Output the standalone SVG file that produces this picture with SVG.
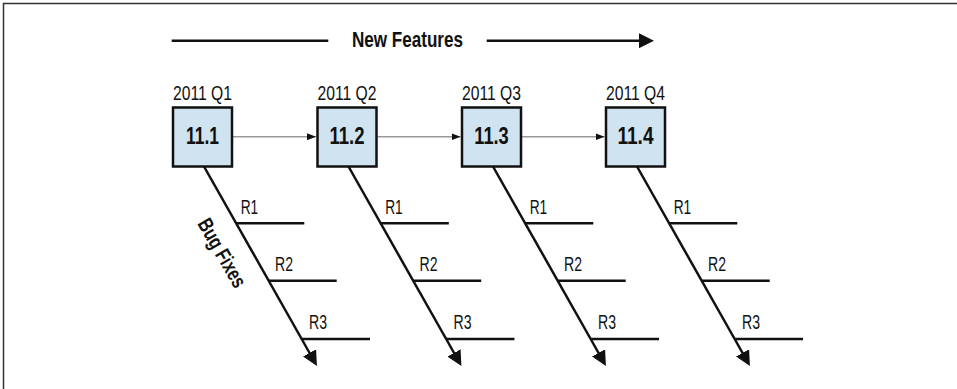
<svg xmlns="http://www.w3.org/2000/svg" width="957" height="389" viewBox="0 0 957 389">
<style>
text{font-family:"Liberation Sans",Arial,sans-serif;fill:#111}
.q{font-size:21px;text-anchor:middle}
.v{font-size:24px;font-weight:bold;text-anchor:middle}
.r{font-size:21px}
.b{font-size:21px;font-weight:bold;text-anchor:middle}
.box{fill:#cfe3f0;stroke:#111;stroke-width:2.5}
.thin{stroke:#999;stroke-width:1.5;fill:none}
.thick{stroke:#111;stroke-width:2.5;fill:none}
</style>
<defs>
<marker id="sm" markerUnits="userSpaceOnUse" markerWidth="9" markerHeight="7" refX="9" refY="3.5" orient="auto"><path d="M0,0 L9,3.5 L0,7 z" fill="#111"/></marker>
<marker id="big" markerUnits="userSpaceOnUse" markerWidth="15" markerHeight="15" refX="7" refY="7.5" orient="auto"><path d="M0,0 L15,7.5 L0,15 z" fill="#111"/></marker>
<g id="fish">
<line class="thick" x1="204" y1="166.5" x2="313" y2="359" marker-end="url(#big)"/>
<line class="thick" x1="236.2" y1="223.3" x2="304.3" y2="223.3"/>
<line class="thick" x1="268.7" y1="280.7" x2="336.7" y2="280.7"/>
<line class="thick" x1="301.7" y1="339" x2="370" y2="339"/>
<text class="r" x="240.7" y="213.5" textLength="17.5" lengthAdjust="spacingAndGlyphs">R1</text>
<text class="r" x="275" y="271" textLength="18" lengthAdjust="spacingAndGlyphs">R2</text>
<text class="r" x="309" y="328.5" textLength="18" lengthAdjust="spacingAndGlyphs">R3</text>
</g>
</defs>
<path d="M3.5,389 V3.5 H957" fill="none" stroke="#333" stroke-width="1.5"/>
<g id="new-features">
<line class="thick" x1="171.7" y1="40.7" x2="328.3" y2="40.7"/>
<text class="b" x="407.5" y="47" textLength="111" lengthAdjust="spacingAndGlyphs" style="font-size:22px">New Features</text>
<line class="thick" x1="486.7" y1="40.7" x2="646" y2="40.7" marker-end="url(#big)"/>
</g>
<g id="connectors">
<line class="thin" x1="233" y1="136.7" x2="316" y2="136.7" marker-end="url(#sm)"/>
<line class="thin" x1="377.5" y1="136.7" x2="460.5" y2="136.7" marker-end="url(#sm)"/>
<line class="thin" x1="522" y1="136.7" x2="604.5" y2="136.7" marker-end="url(#sm)"/>
</g>
<g id="r11-1">
<text class="q" x="202.5" y="99.5" textLength="59" lengthAdjust="spacingAndGlyphs">2011 Q1</text>
<rect class="box" x="173" y="107.5" width="59" height="59"/>
<text class="v" x="202.5" y="143.5" textLength="33" lengthAdjust="spacingAndGlyphs">11.1</text>
<use href="#fish"/>
</g>
<g id="r11-2">
<text class="q" x="347" y="99.5" textLength="59" lengthAdjust="spacingAndGlyphs">2011 Q2</text>
<rect class="box" x="317.5" y="107.5" width="59" height="59"/>
<text class="v" x="347" y="143.5" textLength="35" lengthAdjust="spacingAndGlyphs">11.2</text>
<use href="#fish" transform="translate(144.5,0)"/>
</g>
<g id="r11-3">
<text class="q" x="491.5" y="99.5" textLength="59" lengthAdjust="spacingAndGlyphs">2011 Q3</text>
<rect class="box" x="462" y="107.5" width="59" height="59"/>
<text class="v" x="491.5" y="143.5" textLength="34.5" lengthAdjust="spacingAndGlyphs">11.3</text>
<use href="#fish" transform="translate(289,0)"/>
</g>
<g id="r11-4">
<text class="q" x="635.5" y="99.5" textLength="59" lengthAdjust="spacingAndGlyphs">2011 Q4</text>
<rect class="box" x="606" y="107.5" width="59" height="59"/>
<text class="v" x="635.5" y="143.5" textLength="36" lengthAdjust="spacingAndGlyphs">11.4</text>
<use href="#fish" transform="translate(433,0)"/>
</g>
<g id="bug-fixes">
<text class="b" transform="translate(222,253) rotate(60)" x="0" y="7" textLength="76" lengthAdjust="spacingAndGlyphs">Bug Fixes</text>
</g>
</svg>
